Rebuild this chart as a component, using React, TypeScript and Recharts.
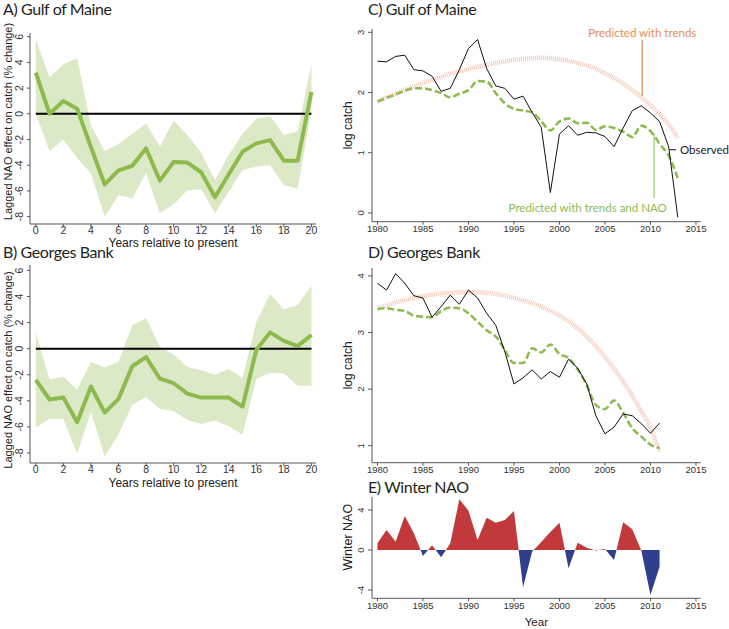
import {
  ComposedChart, AreaChart, Area, Line, XAxis, YAxis,
  ReferenceLine, ReferenceDot,
} from 'recharts'

// A/B: lagged NAO effect on catch (% change), lag 0..20 years
const LAGS = [0, 1, 2, 3, 4, 5, 6, 7, 8, 9, 10, 11, 12, 13, 14, 15, 16, 17, 18, 19, 20]
const GOM_EFFECT = [3.2, 0.0, 1.0, 0.4, -2.6, -5.5, -4.4, -4.05, -2.7, -5.2, -3.75, -3.8, -4.55, -6.5, -4.7, -2.95, -2.3, -2.05, -3.65, -3.65, 1.7]
const GOM_UPPER = [5.8, 2.85, 3.85, 4.35, -0.9, -2.9, -2.35, -1.55, -0.75, -2.55, -0.55, -1.65, -3.05, -5.15, -3.2, -1.55, -0.4, -0.2, -1.65, -1.35, 3.9]
const GOM_LOWER = [0.0, -2.9, -2.0, -3.45, -4.65, -8.0, -6.35, -6.6, -4.6, -7.75, -7.05, -5.95, -5.9, -7.75, -6.05, -4.4, -4.1, -4.0, -5.55, -5.85, 0.3]
const GB_EFFECT = [-2.4, -3.9, -3.75, -5.65, -2.9, -4.9, -3.85, -1.35, -0.65, -2.3, -2.65, -3.45, -3.75, -3.75, -3.75, -4.45, -0.1, 1.25, 0.6, 0.2, 1.05]
const GB_UPPER = [1.2, -2.35, -2.15, -3.15, -1.0, -1.45, -1.0, 1.8, 2.35, 0.15, -0.45, -1.4, -1.65, -2.0, -1.55, -2.25, 2.05, 4.2, 3.0, 3.35, 4.8]
const GB_LOWER = [-6.05, -5.4, -5.4, -8.05, -4.85, -8.25, -6.6, -4.3, -3.7, -4.6, -4.8, -5.45, -5.8, -5.5, -5.95, -6.6, -2.3, -1.85, -1.9, -2.85, -2.85]

// C: Gulf of Maine log catch
const GOM_YEARS = [1980, 1981, 1982, 1983, 1984, 1985, 1986, 1987, 1988, 1989, 1990, 1991, 1992, 1993, 1994, 1995, 1996, 1997, 1998, 1999, 2000, 2001, 2002, 2003, 2004, 2005, 2006, 2007, 2008, 2009, 2010, 2011, 2012, 2013]
const GOM_OBSERVED = [2.52, 2.51, 2.6, 2.62, 2.38, 2.36, 2.27, 2.02, 2.07, 2.38, 2.73, 2.88, 2.4, 2.11, 2.07, 1.89, 1.94, 1.67, 1.42, 0.34, 1.31, 1.45, 1.29, 1.34, 1.33, 1.27, 1.1, 1.41, 1.7, 1.78, 1.66, 1.52, 1.1, -0.07]
const GOM_PRED_NAO = [1.85, 1.91, 1.97, 2.03, 2.07, 2.07, 2.04, 1.99, 1.92, 1.98, 2.04, 2.19, 2.18, 1.99, 1.82, 1.73, 1.7, 1.67, 1.52, 1.37, 1.52, 1.57, 1.49, 1.5, 1.38, 1.44, 1.41, 1.35, 1.26, 1.45, 1.36, 1.15, 0.95, 0.58]
const GOM_PRED_TRENDS = [1.86, 1.92, 1.98, 2.04, 2.1, 2.16, 2.21, 2.26, 2.31, 2.35, 2.39, 2.43, 2.46, 2.49, 2.52, 2.54, 2.56, 2.57, 2.58, 2.57, 2.55, 2.53, 2.49, 2.45, 2.39, 2.32, 2.24, 2.15, 2.04, 1.92, 1.79, 1.64, 1.47, 1.25]

// D: Georges Bank log catch, E: winter NAO index
const GB_YEARS = [1980, 1981, 1982, 1983, 1984, 1985, 1986, 1987, 1988, 1989, 1990, 1991, 1992, 1993, 1994, 1995, 1996, 1997, 1998, 1999, 2000, 2001, 2002, 2003, 2004, 2005, 2006, 2007, 2008, 2009, 2010, 2011]
const GB_OBSERVED = [3.87, 3.75, 4.04, 3.87, 3.65, 3.61, 3.27, 3.46, 3.66, 3.5, 3.75, 3.61, 3.34, 3.13, 2.66, 2.09, 2.2, 2.34, 2.18, 2.31, 2.21, 2.53, 2.37, 2.09, 1.53, 1.21, 1.33, 1.56, 1.53, 1.39, 1.22, 1.4]
const GB_PRED_NAO = [3.41, 3.43, 3.4, 3.38, 3.3, 3.28, 3.27, 3.38, 3.44, 3.43, 3.34, 3.19, 3.04, 2.93, 2.69, 2.46, 2.46, 2.72, 2.65, 2.79, 2.62, 2.55, 2.35, 2.07, 1.72, 1.65, 1.8, 1.58, 1.31, 1.16, 1.02, 0.96]
const GB_PRED_TRENDS = [3.43, 3.48, 3.53, 3.57, 3.61, 3.64, 3.67, 3.69, 3.7, 3.71, 3.71, 3.71, 3.7, 3.68, 3.65, 3.61, 3.57, 3.52, 3.46, 3.38, 3.3, 3.2, 3.08, 2.93, 2.76, 2.57, 2.36, 2.13, 1.88, 1.61, 1.32, 0.9]
const NAO_YEARS = GB_YEARS
const WINTER_NAO = [0.67, 2.0, 0.83, 3.4, 1.67, -0.6, 0.47, -0.73, 0.67, 5.07, 3.93, 1.0, 3.23, 2.73, 3.0, 3.9, -3.73, -0.15, 0.8, 1.8, 2.73, -1.83, 0.73, 0.23, -0.05, 0.1, -1.0, 2.77, 2.07, -0.07, -4.5, -1.67]

const LAG_TICKS = [0, 2, 4, 6, 8, 10, 12, 14, 16, 18, 20]
const EFFECT_TICKS = [-8, -6, -4, -2, 0, 2, 4, 6]
const YEAR_TICKS = [1980, 1985, 1990, 1995, 2000, 2005, 2010, 2015]
const GOM_CATCH_TICKS = [0, 1, 2, 3]
const GB_CATCH_TICKS = [1, 2, 3, 4]
const NAO_TICKS = [-4, -2, 0, 2, 4]

const FONT = '"Liberation Sans", Arial, Helvetica, sans-serif'
const TITLE_FONT = 'Lato, "Open Sans", sans-serif'
const AXIS = '#555'
const GREEN = '#8cba4c'
const BAND = '#dce9c7'
const SALMON = '#f0b29a'
const ORANGE_TEXT = '#e38c55'

const gomLag = LAGS.map((lag, i) => ({ lag, effect: GOM_EFFECT[i], band: [GOM_LOWER[i], GOM_UPPER[i]] }))
const gbLag = LAGS.map((lag, i) => ({ lag, effect: GB_EFFECT[i], band: [GB_LOWER[i], GB_UPPER[i]] }))
const gomCatch = GOM_YEARS.map((year, i) => ({ year, observed: GOM_OBSERVED[i], nao: GOM_PRED_NAO[i], trends: GOM_PRED_TRENDS[i] }))
const gbCatch = GB_YEARS.map((year, i) => ({ year, observed: GB_OBSERVED[i], nao: GB_PRED_NAO[i], trends: GB_PRED_TRENDS[i] }))
const naoRows = NAO_YEARS.map((year, i) => ({ year, nao: WINTER_NAO[i] }))

const naoMax = Math.max(...WINTER_NAO)
const naoMin = Math.min(...WINTER_NAO)
const naoSplit = naoMax / (naoMax - naoMin)

function VerticalTick(props: any) {
  const { x, y, payload, size } = props
  return (
    <text x={x} y={y} transform={`rotate(-90 ${x} ${y})`} textAnchor="middle"
      fontSize={size} fontFamily={FONT} fill="#333">
      {payload.value}
    </text>
  )
}

// rotated y-axis title, baseline dx from the axis box's left edge
const yTitle = (text: string, size: number, dx: number, shift: number) => (props: any) => {
  const vb = props.viewBox || { x: 0, y: 0, height: 0 }
  const cx = vb.x + dx
  const cy = vb.y + vb.height / 2 + shift
  return (
    <text x={cx} y={cy} transform={`rotate(-90 ${cx} ${cy})`} textAnchor="middle"
      fontSize={size} fontFamily={FONT} fill="#222">
      {text}
    </text>
  )
}

interface LagProps {
  rows: typeof gomLag
  top: number
  marginTop: number
  xAxisHeight: number
  yDomain: [number, number]
  titleShift: number
}

function LagPanel({ rows, top, marginTop, xAxisHeight, yDomain, titleShift }: LagProps) {
  return (
    <div style={{ position: 'absolute', left: 0, top }}>
      <ComposedChart width={330} height={237} data={rows}
        margin={{ top: marginTop, right: 14, bottom: 0, left: 0 }}>
        <XAxis dataKey="lag" type="number" domain={[-0.42, 20.33]} ticks={LAG_TICKS}
          allowDataOverflow height={xAxisHeight} stroke={AXIS} tickSize={3} tickMargin={0}
          tick={{ fontSize: 10.5, fill: '#333', fontFamily: FONT }}
          label={{ value: 'Years relative to present', position: 'insideBottom', offset: 5, fontSize: 12, fill: '#222', fontFamily: FONT }} />
        <YAxis type="number" domain={yDomain} ticks={EFFECT_TICKS} allowDataOverflow width={30}
          stroke={AXIS} tickSize={3} tickMargin={4}
          tick={(p: any) => <VerticalTick {...p} size={10.5} />}
          label={yTitle('Lagged NAO effect on catch (% change)', 11, 11.5, titleShift)} />
        <Area dataKey="band" type="linear" stroke="none" fill={BAND} fillOpacity={1} isAnimationActive={false} />
        <ReferenceLine segment={[{ x: 0, y: 0 }, { x: 20, y: 0 }]} stroke="#000" strokeWidth={2} />
        <Line dataKey="effect" type="linear" stroke={GREEN} strokeWidth={4} dot={false}
          strokeLinejoin="round" isAnimationActive={false} />
      </ComposedChart>
    </div>
  )
}

interface CatchProps {
  rows: typeof gomCatch
  top: number
  marginTop: number
  xAxisHeight: number
  yDomain: [number, number]
  yTicks: number[]
  children?: any
}

function CatchPanel({ rows, top, marginTop, xAxisHeight, yDomain, yTicks, children }: CatchProps) {
  return (
    <div style={{ position: 'absolute', left: 340, top }}>
      <ComposedChart width={389} height={235} data={rows}
        margin={{ top: marginTop, right: 28.3, bottom: 0, left: 0 }}>
        <XAxis dataKey="year" type="number" domain={[1979.4, 2015.52]} ticks={YEAR_TICKS}
          allowDataOverflow height={xAxisHeight} stroke={AXIS} tickSize={3} tickMargin={1}
          tick={{ fontSize: 9.5, fill: '#333', fontFamily: FONT }} />
        <YAxis type="number" domain={yDomain} ticks={yTicks} allowDataOverflow width={32}
          stroke={AXIS} tickSize={4} tickMargin={4}
          tick={(p: any) => <VerticalTick {...p} size={9.5} />}
          label={yTitle('log catch', 12, 12, 0)} />
        <Line dataKey="trends" type="monotone" stroke={SALMON} strokeWidth={4.5}
          strokeDasharray="1 1" strokeOpacity={0.7} dot={false} isAnimationActive={false} />
        <Line dataKey="nao" type="monotone" stroke={GREEN} strokeWidth={2.5}
          strokeDasharray="7 3" dot={false} isAnimationActive={false} />
        <Line dataKey="observed" type="linear" stroke="#111" strokeWidth={1} dot={false} isAnimationActive={false} />
        {children}
      </ComposedChart>
    </div>
  )
}

function NaoPanel() {
  return (
    <div style={{ position: 'absolute', left: 340, top: 490 }}>
      <AreaChart width={389} height={139} data={naoRows}
        margin={{ top: 7, right: 28.3, bottom: 0, left: 0 }}>
        <defs>
          <linearGradient id="naoFill" x1="0" y1="0" x2="0" y2="1">
            <stop offset={naoSplit} stopColor="#c1393b" />
            <stop offset={naoSplit} stopColor="#2f3f8e" />
          </linearGradient>
        </defs>
        <XAxis dataKey="year" type="number" domain={[1979.4, 2015.52]} ticks={YEAR_TICKS}
          allowDataOverflow height={30.7} stroke={AXIS} tickSize={3} tickMargin={1}
          tick={{ fontSize: 9.5, fill: '#333', fontFamily: FONT }}
          label={{ value: 'Year', position: 'insideBottom', offset: 3.5, fontSize: 11.5, fill: '#222', fontFamily: FONT }} />
        <YAxis type="number" domain={[-4.83, 5.3]} ticks={NAO_TICKS} allowDataOverflow width={32}
          stroke={AXIS} tickSize={4} tickMargin={4}
          tick={(p: any) => <VerticalTick {...p} size={9.5} />}
          label={yTitle('Winter NAO', 12.5, 12.5, -10.5)} />
        <Area dataKey="nao" type="linear" baseValue={0} stroke="none" fill="url(#naoFill)"
          fillOpacity={1} isAnimationActive={false} />
      </AreaChart>
    </div>
  )
}

const TITLES = [
  { text: 'A) Gulf of Maine', x: 3, y: 15 },
  { text: 'B) Georges Bank', x: 3, y: 258 },
  { text: 'C) Gulf of Maine', x: 368, y: 15 },
  { text: 'D) Georges Bank', x: 368, y: 258 },
  { text: 'E) Winter NAO', x: 368, y: 493 },
]

export default function App() {
  return (
    <div style={{ position: 'absolute', left: 0, top: 0, width: 729, height: 629, background: '#fff', overflow: 'hidden' }}>
      <LagPanel rows={gomLag} top={15} marginTop={18} xAxisHeight={28} yDomain={[-8.58, 6.29]} titleShift={-7} />
      <LagPanel rows={gbLag} top={255} marginTop={10} xAxisHeight={29} yDomain={[-8.77, 6.42]} titleShift={6} />
      <CatchPanel rows={gomCatch} top={15} marginTop={14} xAxisHeight={28.3}
        yDomain={[-0.145, 3.055]} yTicks={GOM_CATCH_TICKS}>
        <ReferenceLine segment={[{ x: 2009.1, y: 2.87 }, { x: 2009.1, y: 1.94 }]} stroke="#e3a06e" strokeWidth={1.5} />
        <ReferenceDot x={2009.1} y={2.99} r={0} fill="none" stroke="none"
          label={{ value: 'Predicted with trends', position: 'center', fill: ORANGE_TEXT, fontSize: 11.5, fontFamily: TITLE_FONT }} />
        <ReferenceLine segment={[{ x: 2012.1, y: 1.05 }, { x: 2012.8, y: 1.05 }]} stroke="#111" strokeWidth={1} />
        <ReferenceDot x={2012.8} y={1.05} r={0} fill="none" stroke="none"
          label={{ value: 'Observed', position: 'right', offset: 4, fill: '#222', fontSize: 11.5, fontFamily: TITLE_FONT }} />
        <ReferenceLine segment={[{ x: 2010.4, y: 1.33 }, { x: 2010.4, y: 0.25 }]} stroke="#9cc76a" strokeWidth={1.2} />
        <ReferenceDot x={2003.1} y={0.083} r={0} fill="none" stroke="none"
          label={{ value: 'Predicted with trends and NAO', position: 'center', fill: '#8dbb50', fontSize: 11.5, fontFamily: TITLE_FONT }} />
      </CatchPanel>
      <CatchPanel rows={gbCatch} top={255} marginTop={13} xAxisHeight={27.3}
        yDomain={[0.7, 4.14]} yTicks={GB_CATCH_TICKS} />
      <NaoPanel />
      <svg width={729} height={629} style={{ position: 'absolute', left: 0, top: 0, pointerEvents: 'none' }}>
        {TITLES.map((t) => (
          <text key={t.text} x={t.x} y={t.y} fontSize={16} letterSpacing={-0.4}
            fontFamily={TITLE_FONT} fill="#231f20">{t.text}</text>
        ))}
      </svg>
    </div>
  )
}
